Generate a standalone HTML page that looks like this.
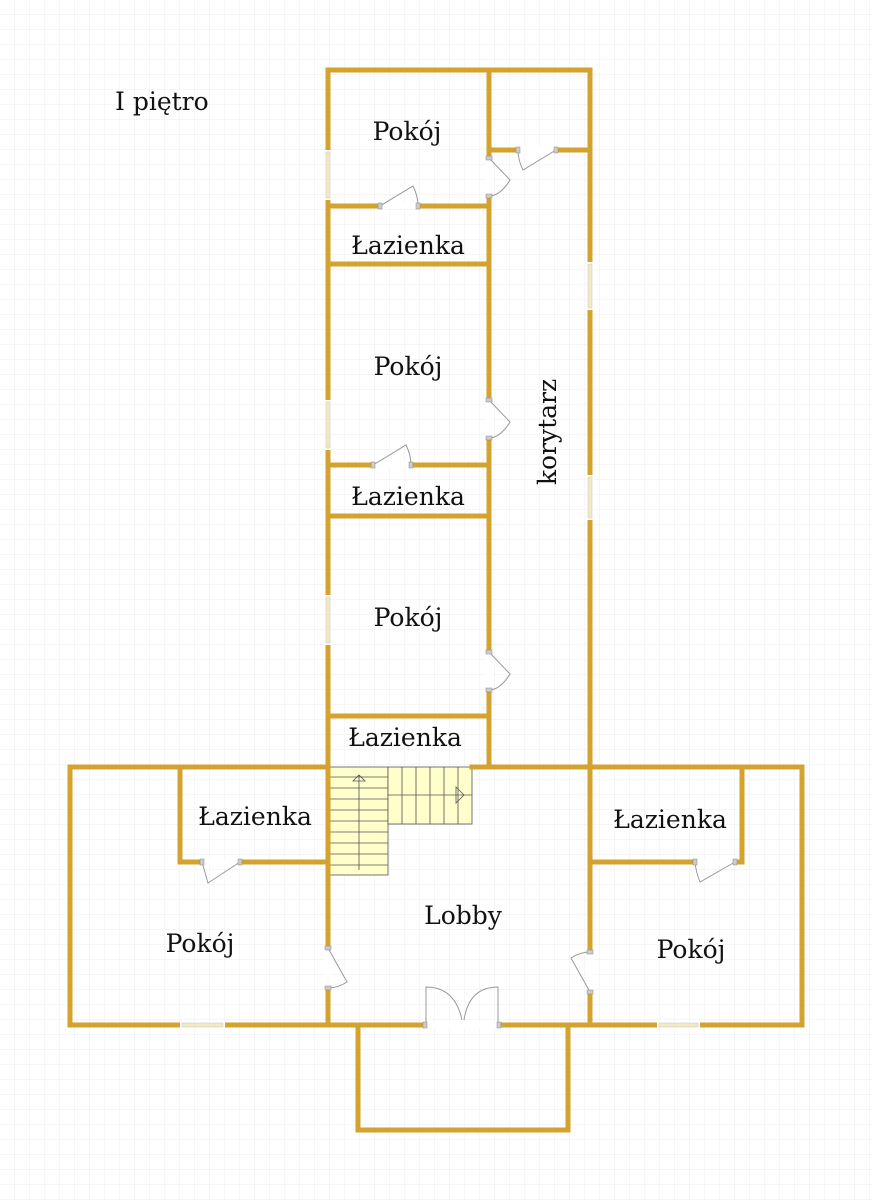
<!DOCTYPE html>
<html><head><meta charset="utf-8"><style>
html,body{margin:0;padding:0;background:#fff}
svg{display:block}
text{font-family:"DejaVu Serif","Liberation Serif",serif;font-size:25px;fill:#111}
</style></head><body>
<svg width="872" height="1200" viewBox="0 0 872 1200" xmlns="http://www.w3.org/2000/svg">
<defs>
<pattern id="g" width="15" height="15" patternUnits="userSpaceOnUse">
<path d="M15 0V15M0 15H15" stroke="#eeeeee" stroke-width="1" fill="none"/>
</pattern>
</defs>
<rect width="872" height="1200" fill="url(#g)"/>
<g fill="#ffffcc" stroke="#555" stroke-width="0.8">
<rect x="330" y="767" width="58" height="108"/>
<rect x="388" y="767" width="84" height="57"/>
</g>
<g stroke="#555" stroke-width="0.8">
<path d="M330 777H388M330 788H388M330 799H388M330 810H388M330 821H388M330 832H388M330 843H388M330 854H388M330 865H388"/>
<path d="M402 767V824M416 767V824M430 767V824M444 767V824M458 767V824M388 795H472"/>
<path d="M359 870V775M353 781L359 775L365 781Z" fill="none"/>
<path d="M456 787L464 795L456 803Z" fill="none"/>
</g>
<g stroke="#d4a22e" stroke-width="5" fill="none" stroke-linecap="square">
<path d="M328 1025V70H590V767"/>
<path d="M489 70V765"/>
<path d="M489 150H590"/>
<path d="M328 206H489M328 264H489M328 465H489M328 516H489M328 716H489"/>
<path d="M328 767H70V1025H802V767H590"/>
<path d="M472 767H590"/>
<path d="M180 767V862H328"/>
<path d="M742 767V862H590"/>
<path d="M590 767V1025"/>
<path d="M358 1025V1130H568V1025"/>
</g>
<g fill="#fff">
<rect x="325" y="150" width="6" height="50"/>
<rect x="325" y="400" width="6" height="50"/>
<rect x="325" y="595" width="6" height="50"/>
<rect x="587" y="262" width="6" height="48"/>
<rect x="587" y="475" width="6" height="45"/>
<rect x="180" y="1022" width="45" height="6"/>
<rect x="657" y="1022" width="43" height="6"/>
<rect x="380" y="203" width="38" height="6"/>
<rect x="373" y="462" width="38" height="6"/>
<rect x="518" y="147" width="38" height="6"/>
<rect x="486" y="158" width="6" height="38"/>
<rect x="486" y="400" width="6" height="38"/>
<rect x="486" y="652" width="6" height="38"/>
<rect x="202" y="859" width="38" height="6"/>
<rect x="695" y="859" width="40" height="6"/>
<rect x="325" y="948" width="6" height="40"/>
<rect x="587" y="952" width="6" height="40"/>
<rect x="425" y="1022" width="74" height="6"/>
</g>
<g fill="#f3e9c2" stroke="#ccc" stroke-width="0.6">
<rect x="326" y="152" width="4" height="46"/>
<rect x="326" y="402" width="4" height="46"/>
<rect x="326" y="597" width="4" height="46"/>
<rect x="588" y="264" width="4" height="44"/>
<rect x="588" y="477" width="4" height="41"/>
<rect x="182" y="1023" width="41" height="4"/>
<rect x="659" y="1023" width="39" height="4"/>
</g>
<g stroke="#999" stroke-width="1" fill="none">
<path d="M380 206L413 186Q418 196 418 206"/>
<path d="M373 465L406 445Q411 455 411 465"/>
<path d="M556 150L523 170Q518 160 518 150"/>
<path d="M489 158L510 180Q500 196 489 196"/>
<path d="M489 400L510 422Q500 438 489 438"/>
<path d="M489 652L510 674Q500 690 489 690"/>
<path d="M202 862L208 883L240 862"/>
<path d="M735 862L700 882Q696 872 695 862"/>
<path d="M328 948L347 982Q338 988 328 988"/>
<path d="M590 992L571 958Q580 952 590 952"/>
<path d="M426 1025V987Q455 987 462 1020M498 1025V987Q469 987 464 1020"/>
</g>
<g fill="#ccc" stroke="#888" stroke-width="0.5">
<rect x="378" y="203" width="4" height="6"/><rect x="416" y="203" width="4" height="6"/>
<rect x="371" y="462" width="4" height="6"/><rect x="409" y="462" width="4" height="6"/>
<rect x="516" y="147" width="4" height="6"/><rect x="554" y="147" width="4" height="6"/>
<rect x="486" y="156" width="6" height="4"/><rect x="486" y="194" width="6" height="4"/>
<rect x="486" y="398" width="6" height="4"/><rect x="486" y="436" width="6" height="4"/>
<rect x="486" y="650" width="6" height="4"/><rect x="486" y="688" width="6" height="4"/>
<rect x="200" y="859" width="4" height="6"/><rect x="238" y="859" width="4" height="6"/>
<rect x="693" y="859" width="4" height="6"/><rect x="733" y="859" width="4" height="6"/>
<rect x="325" y="946" width="6" height="4"/><rect x="325" y="986" width="6" height="4"/>
<rect x="587" y="950" width="6" height="4"/><rect x="587" y="990" width="6" height="4"/>
<rect x="423" y="1022" width="4" height="6"/><rect x="497" y="1022" width="4" height="6"/>
</g>
<text x="115" y="110">I piętro</text>
<g text-anchor="middle">
<text x="407" y="140">Pokój</text>
<text x="408" y="254">Łazienka</text>
<text x="408" y="375">Pokój</text>
<text x="408" y="505">Łazienka</text>
<text x="408" y="626">Pokój</text>
<text x="405" y="746">Łazienka</text>
<text x="255" y="825">Łazienka</text>
<text x="670" y="828">Łazienka</text>
<text x="463" y="924">Lobby</text>
<text x="200" y="952">Pokój</text>
<text x="691" y="958">Pokój</text>
<text x="0" y="0" transform="translate(556,432) rotate(-90)">korytarz</text>
</g>
</svg>
</body></html>
